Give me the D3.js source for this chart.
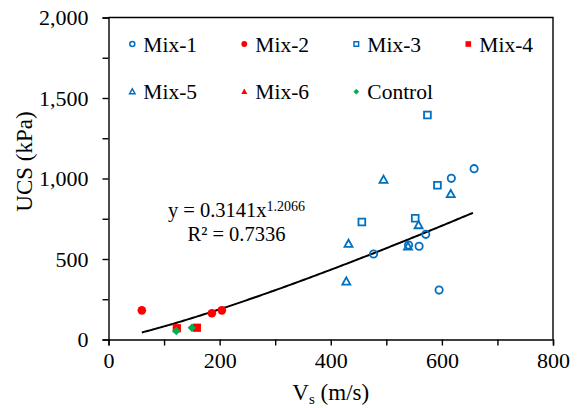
<!DOCTYPE html>
<html>
<head>
<meta charset="utf-8">
<script src="https://cdn.jsdelivr.net/npm/d3@7"></script>
<style>
  body { margin: 0; background: #fff; }
</style>
</head>
<body>
<div id="chart"></div>
<script>
width = 581;
height = 408;

margin = { top: 17.5, right: 28, bottom: 68.5, left: 108.5 };

const serif = '"Liberation Serif", "Times New Roman", Times, serif';

// Vs (m/s) and UCS (kPa)
const mix1Vs  = [477, 540, 559, 571, 617, 658, 595];
const mix1Ucs = [531, 587, 579, 653, 1001, 1061, 307];
const mix2Vs  = [60, 186, 204];
const mix2Ucs = [181, 163, 181];
const mix3Vs  = [574, 592, 456, 552];
const mix3Ucs = [1394, 958, 730, 753];
const mix4Vs  = [123, 159];
const mix4Ucs = [70, 73];
const mix5Vs  = [495, 616, 558, 539, 432, 428];
const mix5Ucs = [991, 902, 709, 576, 593, 359];
const mix6Vs  = [];
const mix6Ucs = [];
const controlVs  = [122, 150];
const controlUcs = [53, 73];

// power fit shown on chart
const fitA = 0.3141;
const fitB = 1.2066;
const fitRange = [60, 658];

const xTicks = [0, 100, 200, 300, 400, 500, 600, 700, 800];
const yTicks = [0, 250, 500, 750, 1000, 1250, 1500, 1750, 2000];

const blue = '#0070C0', red = '#FF0000', green = '#00B050';

const series = [
    { name: 'Mix-1', vs: mix1Vs, ucs: mix1Ucs, shape: 'circle', color: blue, fill: false },
    { name: 'Mix-2', vs: mix2Vs, ucs: mix2Ucs, shape: 'circle', color: red, fill: true },
    { name: 'Mix-3', vs: mix3Vs, ucs: mix3Ucs, shape: 'square', color: blue, fill: false },
    { name: 'Mix-4', vs: mix4Vs, ucs: mix4Ucs, shape: 'square', color: red, fill: true },
    { name: 'Mix-5', vs: mix5Vs, ucs: mix5Ucs, shape: 'triangle', color: blue, fill: false },
    { name: 'Mix-6', vs: mix6Vs, ucs: mix6Ucs, shape: 'triangle', color: red, fill: true },
    { name: 'Control', vs: controlVs, ucs: controlUcs, shape: 'diamond', color: green, fill: true }
];

//////// Scales ////////
const xScale = d3.scaleLinear().domain([0, 800]).range([margin.left, width - margin.right]);
const yScale = d3.scaleLinear().domain([0, 2000]).range([height - margin.bottom, margin.top]);

const svg = d3.select('#chart').append('svg')
    .attr('width', width)
    .attr('height', height)
    .attr('font-family', serif);

// marker path for a shape, scaled by k
function markerPath(shape, fill, k) {
    if (shape == 'circle') return d3.symbol(d3.symbolCircle, (fill ? 58 : 42) * k * k)();
    if (shape == 'square') return d3.symbol(d3.symbolSquare, (fill ? 68 : 46) * k * k)();
    if (shape == 'triangle') {
        const w = (fill ? 9 : 8) * k, h = w * 0.9;
        return `M0,${-h * 0.6}L${w / 2},${h * 0.4}L${-w / 2},${h * 0.4}Z`;
    }
    // diamond: square rotated 45 deg
    const r = 4.2 * k;
    return `M0,${-r}L${r},0L0,${r}L${-r},0Z`;
}

function styleMarker(sel, s) {
    sel.attr('fill', s.fill ? s.color : 'none')
        .attr('stroke', s.fill ? 'none' : s.color)
        .attr('stroke-width', s.fill ? 0 : 1.8);
}

//////// Axes ////////
const xAxis = d3.axisBottom(xScale)
    .tickValues(xTicks)
    .tickSize(6)
    .tickPadding(7)
    .tickFormat(d => d % 200 == 0 ? d : '');

svg.append('g')
    .attr('transform', `translate(0,${yScale(0)})`)
    .call(xAxis)
    .attr('font-family', serif)
    .attr('font-size', 22)
    .call(g => g.selectAll('text').attr('fill', '#000'))
    .call(g => g.selectAll('line,path').attr('stroke', '#000').attr('stroke-width', 1.4));

const yAxis = d3.axisLeft(yScale)
    .tickValues(yTicks)
    .tickSize(6)
    .tickPadding(14)
    .tickFormat(d => d % 500 == 0 ? d3.format(',')(d) : '');

svg.append('g')
    .attr('transform', `translate(${xScale(0)},0)`)
    .call(yAxis)
    .attr('font-family', serif)
    .attr('font-size', 22)
    .call(g => g.selectAll('text').attr('fill', '#000'))
    .call(g => g.selectAll('line,path').attr('stroke', '#000').attr('stroke-width', 1.4));

// box border (top and right)
svg.append('path')
    .attr('d', `M${xScale(0)},${yScale(2000)}H${xScale(800)}V${yScale(0)}`)
    .attr('fill', 'none')
    .attr('stroke', '#000')
    .attr('stroke-width', 1.4);

//////// Axis titles ////////
const xTitle = svg.append('text')
    .attr('x', (xScale(0) + xScale(800)) / 2)
    .attr('y', 400)
    .attr('text-anchor', 'middle')
    .attr('font-size', 23);
xTitle.append('tspan').text('V');
xTitle.append('tspan').text('s').attr('dy', 4).attr('font-size', 15);
xTitle.append('tspan').text(' (m/s)').attr('dy', -4);

svg.append('text')
    .attr('transform', 'translate(32,161.5) rotate(-90)')
    .attr('text-anchor', 'middle')
    .attr('font-size', 23)
    .text('UCS (kPa)');

//////// Trend line ////////
const fitXs = d3.range(fitRange[0], fitRange[1] + 1, 4);
svg.append('path')
    .datum(fitXs)
    .attr('d', d3.line().x(d => xScale(d)).y(d => yScale(fitA * Math.pow(d, fitB))))
    .attr('fill', 'none')
    .attr('stroke', '#000')
    .attr('stroke-width', 2);

//////// Points ////////
series.forEach(s => {
    const pts = s.vs.map((v, i) => ({ v: v, u: s.ucs[i] }));
    svg.append('g').selectAll('path')
        .data(pts)
        .join('path')
        .attr('d', markerPath(s.shape, s.fill, 1))
        .attr('transform', d => `translate(${xScale(d.v)},${yScale(d.u)})`)
        .call(sel => styleMarker(sel, s));
});

//////// Equation ////////
const eq1 = svg.append('text')
    .attr('x', 236.5).attr('y', 216.5)
    .attr('text-anchor', 'middle')
    .attr('font-size', 20.5);
eq1.append('tspan').text(`y = ${fitA}x`);
eq1.append('tspan').text(fitB).attr('dy', -6).attr('font-size', 14);

svg.append('text')
    .attr('x', 236.5).attr('y', 240.5)
    .attr('text-anchor', 'middle')
    .attr('font-size', 20.5)
    .text('R² = 0.7336');

//////// Legend ////////
const legend = svg.append('g');
series.forEach((s, i) => {
    const col = i % 4, row = Math.floor(i / 4);
    const gx = 132.3 + col * 112, gy = 44 + row * 47.7;
    const item = legend.append('g').attr('transform', `translate(${gx},${gy})`);
    item.append('path')
        .attr('d', markerPath(s.shape, s.fill, 0.68))
        .call(sel => styleMarker(sel, s))
        .attr('stroke-width', s.fill ? 0 : 1.5);
    item.append('text')
        .attr('x', 11)
        .attr('y', 7.5)
        .attr('font-size', 21.5)
        .text(s.name);
});
</script>
</body>
</html>
